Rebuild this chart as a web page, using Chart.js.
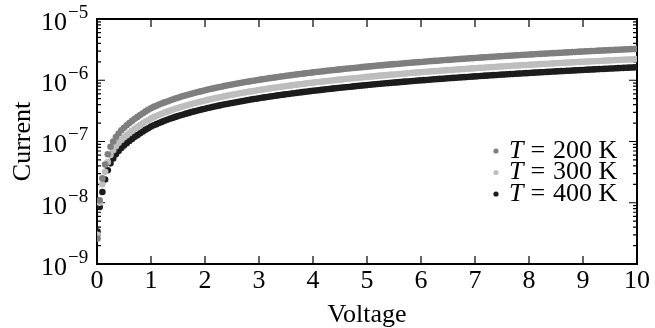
<!DOCTYPE html>
<html>
<head>
<meta charset="utf-8">
<script src="https://cdn.jsdelivr.net/npm/chart.js@4/dist/chart.umd.min.js"></script>
<style>
  body { margin: 0; background: #fff; }
</style>
</head>
<body>
<canvas id="ivChart" width="655" height="328"></canvas>
<script>
// voltage sweep (V)
var volts = [
  0.01, 0.05, 0.10, 0.15, 0.20, 0.25, 0.30, 0.35, 0.40, 0.45, 0.50, 0.55, 0.60, 0.65, 0.70, 0.75, 0.80, 0.85, 0.90, 0.95, 1.00,
  1.05, 1.10, 1.15, 1.20, 1.25, 1.30, 1.35, 1.40, 1.45, 1.50, 1.55, 1.60, 1.65, 1.70, 1.75, 1.80, 1.85, 1.90, 1.95, 2.00,
  2.05, 2.10, 2.15, 2.20, 2.25, 2.30, 2.35, 2.40, 2.45, 2.50, 2.55, 2.60, 2.65, 2.70, 2.75, 2.80, 2.85, 2.90, 2.95, 3.00,
  3.05, 3.10, 3.15, 3.20, 3.25, 3.30, 3.35, 3.40, 3.45, 3.50, 3.55, 3.60, 3.65, 3.70, 3.75, 3.80, 3.85, 3.90, 3.95, 4.00,
  4.05, 4.10, 4.15, 4.20, 4.25, 4.30, 4.35, 4.40, 4.45, 4.50, 4.55, 4.60, 4.65, 4.70, 4.75, 4.80, 4.85, 4.90, 4.95, 5.00,
  5.05, 5.10, 5.15, 5.20, 5.25, 5.30, 5.35, 5.40, 5.45, 5.50, 5.55, 5.60, 5.65, 5.70, 5.75, 5.80, 5.85, 5.90, 5.95, 6.00,
  6.05, 6.10, 6.15, 6.20, 6.25, 6.30, 6.35, 6.40, 6.45, 6.50, 6.55, 6.60, 6.65, 6.70, 6.75, 6.80, 6.85, 6.90, 6.95, 7.00,
  7.05, 7.10, 7.15, 7.20, 7.25, 7.30, 7.35, 7.40, 7.45, 7.50, 7.55, 7.60, 7.65, 7.70, 7.75, 7.80, 7.85, 7.90, 7.95, 8.00,
  8.05, 8.10, 8.15, 8.20, 8.25, 8.30, 8.35, 8.40, 8.45, 8.50, 8.55, 8.60, 8.65, 8.70, 8.75, 8.80, 8.85, 8.90, 8.95, 9.00,
  9.05, 9.10, 9.15, 9.20, 9.25, 9.30, 9.35, 9.40, 9.45, 9.50, 9.55, 9.60, 9.65, 9.70, 9.75, 9.80, 9.85, 9.90, 9.95, 10.00
];

// currents, in units of 1e-7 A
var cur200 = [
  0.026, 0.11, 0.25, 0.42, 0.62, 0.82, 1.0, 1.18, 1.35, 1.52, 1.68, 1.84, 2.0, 2.17, 2.35, 2.52, 2.7, 2.9, 3.1, 3.3, 3.5,
  3.67, 3.84, 4.01, 4.18, 4.35, 4.51, 4.68, 4.85, 5.02, 5.19, 5.36, 5.52, 5.69, 5.86, 6.03, 6.19, 6.36, 6.52, 6.69, 6.86,
  7.03, 7.19, 7.36, 7.52, 7.69, 7.85, 8.02, 8.18, 8.35, 8.51, 8.68, 8.84, 9.01, 9.17, 9.34, 9.50, 9.67, 9.83, 10.00, 10.16,
  10.33, 10.49, 10.66, 10.82, 10.98, 11.14, 11.31, 11.47, 11.64, 11.80, 11.96, 12.12, 12.29, 12.45, 12.62, 12.78, 12.94, 13.10, 13.27, 13.43,
  13.60, 13.76, 13.92, 14.08, 14.25, 14.41, 14.57, 14.73, 14.89, 15.05, 15.22, 15.38, 15.54, 15.70, 15.87, 16.03, 16.19, 16.35, 16.52, 16.68,
  16.84, 17.00, 17.17, 17.33, 17.49, 17.65, 17.82, 17.98, 18.14, 18.30, 18.46, 18.62, 18.79, 18.95, 19.11, 19.27, 19.43, 19.59, 19.75, 19.91,
  20.07, 20.23, 20.39, 20.55, 20.71, 20.87, 21.03, 21.19, 21.35, 21.51, 21.67, 21.83, 21.99, 22.15, 22.31, 22.47, 22.63, 22.79, 22.95, 23.11,
  23.27, 23.43, 23.59, 23.75, 23.91, 24.07, 24.23, 24.39, 24.55, 24.71, 24.86, 25.02, 25.18, 25.34, 25.50, 25.66, 25.82, 25.98, 26.13, 26.29,
  26.45, 26.61, 26.77, 26.93, 27.08, 27.24, 27.40, 27.56, 27.72, 27.88, 28.03, 28.19, 28.35, 28.51, 28.66, 28.82, 28.98, 29.14, 29.29, 29.45,
  29.61, 29.77, 29.92, 30.08, 30.24, 30.40, 30.55, 30.71, 30.87, 31.03, 31.18, 31.34, 31.50, 31.66, 31.81, 31.97, 32.12, 32.28, 32.44, 32.60
];
var cur300 = [
  0.03, 0.10, 0.20, 0.32, 0.46, 0.60, 0.72, 0.84, 0.95, 1.06, 1.17, 1.27, 1.38, 1.50, 1.61, 1.73, 1.85, 1.98, 2.12, 2.25, 2.38,
  2.50, 2.61, 2.73, 2.84, 2.96, 3.07, 3.19, 3.30, 3.42, 3.53, 3.64, 3.75, 3.87, 3.98, 4.10, 4.21, 4.32, 4.43, 4.55, 4.66,
  4.78, 4.89, 5.00, 5.11, 5.23, 5.34, 5.45, 5.56, 5.68, 5.79, 5.90, 6.01, 6.13, 6.24, 6.35, 6.46, 6.57, 6.68, 6.80, 6.91,
  7.02, 7.13, 7.25, 7.36, 7.47, 7.58, 7.69, 7.80, 7.91, 8.02, 8.13, 8.24, 8.36, 8.47, 8.58, 8.69, 8.80, 8.91, 9.02, 9.13,
  9.25, 9.36, 9.47, 9.57, 9.69, 9.80, 9.91, 10.02, 10.13, 10.23, 10.35, 10.46, 10.57, 10.68, 10.79, 10.90, 11.01, 11.12, 11.23, 11.34,
  11.45, 11.56, 11.67, 11.78, 11.89, 12.00, 12.12, 12.23, 12.34, 12.44, 12.55, 12.66, 12.78, 12.89, 13.00, 13.10, 13.21, 13.32, 13.43, 13.54,
  13.65, 13.76, 13.87, 13.97, 14.08, 14.19, 14.30, 14.41, 14.52, 14.63, 14.74, 14.84, 14.95, 15.06, 15.17, 15.28, 15.39, 15.50, 15.61, 15.71,
  15.82, 15.93, 16.04, 16.15, 16.26, 16.37, 16.48, 16.59, 16.70, 16.80, 16.91, 17.01, 17.12, 17.23, 17.34, 17.45, 17.56, 17.67, 17.78, 17.88,
  17.99, 18.09, 18.20, 18.31, 18.42, 18.52, 18.63, 18.74, 18.85, 18.96, 19.07, 19.17, 19.28, 19.39, 19.50, 19.60, 19.71, 19.82, 19.93, 20.03,
  20.14, 20.24, 20.35, 20.45, 20.56, 20.67, 20.78, 20.88, 20.99, 21.10, 21.21, 21.31, 21.42, 21.53, 21.64, 21.74, 21.85, 21.95, 22.06, 22.17
];
var cur400 = [
  0.034, 0.085, 0.15, 0.24, 0.34, 0.44, 0.53, 0.62, 0.70, 0.78, 0.86, 0.94, 1.02, 1.10, 1.19, 1.27, 1.36, 1.46, 1.56, 1.65, 1.75,
  1.84, 1.92, 2.01, 2.09, 2.18, 2.26, 2.35, 2.43, 2.52, 2.60, 2.68, 2.76, 2.85, 2.93, 3.02, 3.10, 3.18, 3.26, 3.35, 3.43,
  3.52, 3.60, 3.68, 3.76, 3.85, 3.93, 4.01, 4.09, 4.18, 4.26, 4.34, 4.42, 4.51, 4.59, 4.67, 4.75, 4.84, 4.92, 5.00, 5.08,
  5.17, 5.25, 5.33, 5.41, 5.49, 5.57, 5.66, 5.74, 5.82, 5.90, 5.98, 6.06, 6.15, 6.23, 6.31, 6.39, 6.47, 6.55, 6.64, 6.72,
  6.80, 6.88, 6.96, 7.04, 7.13, 7.21, 7.29, 7.37, 7.45, 7.53, 7.61, 7.69, 7.77, 7.85, 7.94, 8.02, 8.10, 8.18, 8.26, 8.34,
  8.42, 8.50, 8.59, 8.67, 8.75, 8.83, 8.91, 8.99, 9.07, 9.15, 9.23, 9.31, 9.40, 9.48, 9.56, 9.64, 9.72, 9.80, 9.88, 9.96,
  10.04, 10.12, 10.20, 10.28, 10.36, 10.44, 10.52, 10.60, 10.68, 10.76, 10.84, 10.92, 11.00, 11.08, 11.16, 11.24, 11.32, 11.40, 11.48, 11.56,
  11.64, 11.72, 11.80, 11.88, 11.96, 12.04, 12.12, 12.20, 12.28, 12.36, 12.43, 12.51, 12.59, 12.67, 12.75, 12.83, 12.91, 12.99, 13.07, 13.15,
  13.23, 13.31, 13.39, 13.47, 13.54, 13.62, 13.70, 13.78, 13.86, 13.94, 14.02, 14.10, 14.18, 14.26, 14.33, 14.41, 14.49, 14.57, 14.65, 14.73,
  14.81, 14.89, 14.96, 15.04, 15.12, 15.20, 15.28, 15.36, 15.44, 15.52, 15.59, 15.67, 15.75, 15.83, 15.91, 15.99, 16.06, 16.14, 16.22, 16.30
];

var temps = [200, 300, 400];
var colors = ['#7f7f7f', '#bebebe', '#1c1c1c'];
var xTicks = [0, 1, 2, 3, 4, 5, 6, 7, 8, 9, 10];
var yExponents = [-9, -8, -7, -6, -5];
var yMinor = [2, 3, 4, 5, 6, 7, 8, 9];

var serif = '"Liberation Serif", "Times New Roman", serif';

function toPoints(arr) {
  return volts.map(function (v, i) { return { x: v, y: arr[i] * 1e-7 }; });
}

// inward ticks on all four sides plus the box
var frameTicks = {
  id: 'frameTicks',
  beforeDatasetsDraw: function (chart) {
    var ctx = chart.ctx, a = chart.chartArea;
    var xs = chart.scales.x, ys = chart.scales.y;
    ctx.save();
    ctx.strokeStyle = '#000';
    ctx.lineWidth = 1.2;
    ctx.beginPath();
    xTicks.forEach(function (v) {
      var px = xs.getPixelForValue(v);
      ctx.moveTo(px, a.bottom); ctx.lineTo(px, a.bottom - 8);
      ctx.moveTo(px, a.top); ctx.lineTo(px, a.top + 8);
    });
    yExponents.forEach(function (e, k) {
      var py = ys.getPixelForValue(Math.pow(10, e));
      ctx.moveTo(a.left, py); ctx.lineTo(a.left + 8, py);
      ctx.moveTo(a.right, py); ctx.lineTo(a.right - 8, py);
      if (k < yExponents.length - 1) {
        yMinor.forEach(function (f) {
          var pm = ys.getPixelForValue(f * Math.pow(10, e));
          ctx.moveTo(a.left, pm); ctx.lineTo(a.left + 4, pm);
          ctx.moveTo(a.right, pm); ctx.lineTo(a.right - 4, pm);
        });
      }
    });
    ctx.stroke();
    ctx.lineWidth = 2;
    ctx.strokeRect(a.left, a.top, a.right - a.left, a.bottom - a.top);
    ctx.restore();
  },
  afterDraw: function (chart) {
    var ctx = chart.ctx, ys = chart.scales.y;
    ctx.save();
    ctx.fillStyle = '#000';
    ctx.textBaseline = 'middle';
    // 10^n labels
    yExponents.forEach(function (e) {
      var py = ys.getPixelForValue(Math.pow(10, e));
      ctx.font = '26px ' + serif;
      ctx.textAlign = 'right';
      ctx.fillText('10', 67, py + 4);
      ctx.font = '19px ' + serif;
      ctx.textAlign = 'left';
      ctx.fillText('\u2212' + Math.abs(e), 68, py - 6);
    });
    // legend
    chart.data.datasets.forEach(function (ds, i) {
      var y = 151 + i * 21.5;
      ctx.fillStyle = ds.backgroundColor;
      ctx.beginPath();
      ctx.arc(496, y, 2.6, 0, Math.PI * 2);
      ctx.fill();
      ctx.fillStyle = '#000';
      ctx.textAlign = 'left';
      var x = 509;
      ctx.font = 'italic 26px ' + serif;
      ctx.fillText('T', x, y);
      x += ctx.measureText('T').width + 7;
      ctx.font = '26px ' + serif;
      ctx.fillText('=', x, y);
      x += ctx.measureText('=').width + 8;
      ctx.fillText(temps[i] + ' K', x, y);
    });
    ctx.restore();
  }
};

var ctx = document.getElementById('ivChart').getContext('2d');
var ivChart = new Chart(ctx, {
  type: 'scatter',
  data: {
    datasets: temps.map(function (t, i) {
      return {
        label: 'T = ' + t + ' K',
        data: toPoints([cur200, cur300, cur400][i]),
        backgroundColor: colors[i],
        borderWidth: 0,
        pointRadius: 3.3,
        pointHoverRadius: 3.3
      };
    })
  },
  options: {
    responsive: false,
    animation: false,
    layout: { padding: { left: 0, top: 19, right: 18, bottom: 0 } },
    plugins: {
      legend: { display: false },
      tooltip: { enabled: false }
    },
    scales: {
      x: {
        type: 'linear',
        min: 0,
        max: 10,
        ticks: { stepSize: 1, color: '#000', padding: 2, font: { family: serif, size: 26 } },
        grid: { display: false, drawTicks: false },
        border: { display: false },
        title: { display: true, text: 'Voltage', color: '#000', padding: { top: 0, bottom: -3 }, font: { family: serif, size: 26 } },
        afterFit: function (s) { s.height = 64; }
      },
      y: {
        type: 'logarithmic',
        min: 1e-9,
        max: 1e-5,
        ticks: { display: false },
        grid: { display: false, drawTicks: false },
        border: { display: false },
        title: { display: true, text: 'Current', color: '#000', padding: { top: 8, bottom: 0 }, font: { family: serif, size: 26 } },
        afterFit: function (s) { s.width = 97; }
      }
    }
  },
  plugins: [frameTicks]
});
</script>
</body>
</html>
